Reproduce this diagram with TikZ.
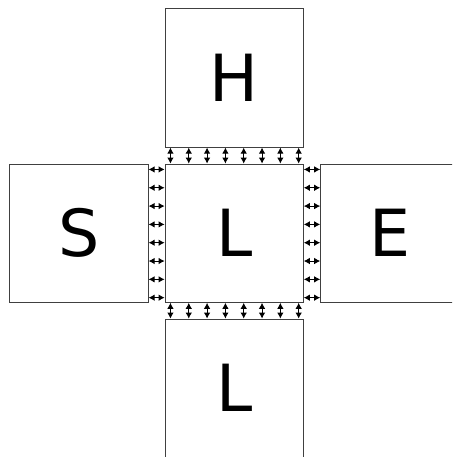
\documentclass[tikz,border=0pt]{standalone}
\usepackage{fontspec}
\setmainfont{DejaVu Sans}
\usetikzlibrary{arrows.meta,calc}
\begin{document}
\begin{tikzpicture}[x=1pt,y=-1pt,
  box/.style={draw=black!75,line width=0.9pt,minimum width=138.3pt,minimum height=138.3pt,inner sep=0pt,font=\fontsize{65}{65}\selectfont},
  link/.style={line width=0.9pt,{Latex[length=6pt,width=6.5pt]}-{Latex[length=6pt,width=6.5pt]}}]
\useasboundingbox (0,0) rectangle (452,457);
\begin{scope}
\clip (0,0) rectangle (452,457);
\node[box] (C) at (234.2,233.2) {\raisebox{-1.5pt}{L}};
\node[box] (H) at (234.2,78) {\raisebox{-1.5pt}{H}};
\node[box] (S) at (79,233.2) {\raisebox{-1.5pt}{S}};
\node[box] (E) at (389.8,233.2) {\raisebox{-1.5pt}{E}};
\node[box] (B) at (234.2,388.2) {\raisebox{-1.5pt}{L}};
\foreach \i in {0,...,7}{
  \pgfmathsetmacro{\f}{(5.8+18.2*\i)/138.3}
  \coordinate (tn\i) at ($(C.north west)!\f!(C.north east)$);
  \coordinate (ts\i) at ($(C.south west)!\f!(C.south east)$);
  \coordinate (tw\i) at ($(C.north west)!\f!(C.south west)$);
  \coordinate (te\i) at ($(C.north east)!\f!(C.south east)$);
  \draw[link] (tn\i) -- (tn\i |- H.south);
  \draw[link] (ts\i) -- (ts\i |- B.north);
  \draw[link] (tw\i) -- (tw\i -| S.east);
  \draw[link] (te\i) -- (te\i -| E.west);
}
\end{scope}
\end{tikzpicture}
\end{document}
